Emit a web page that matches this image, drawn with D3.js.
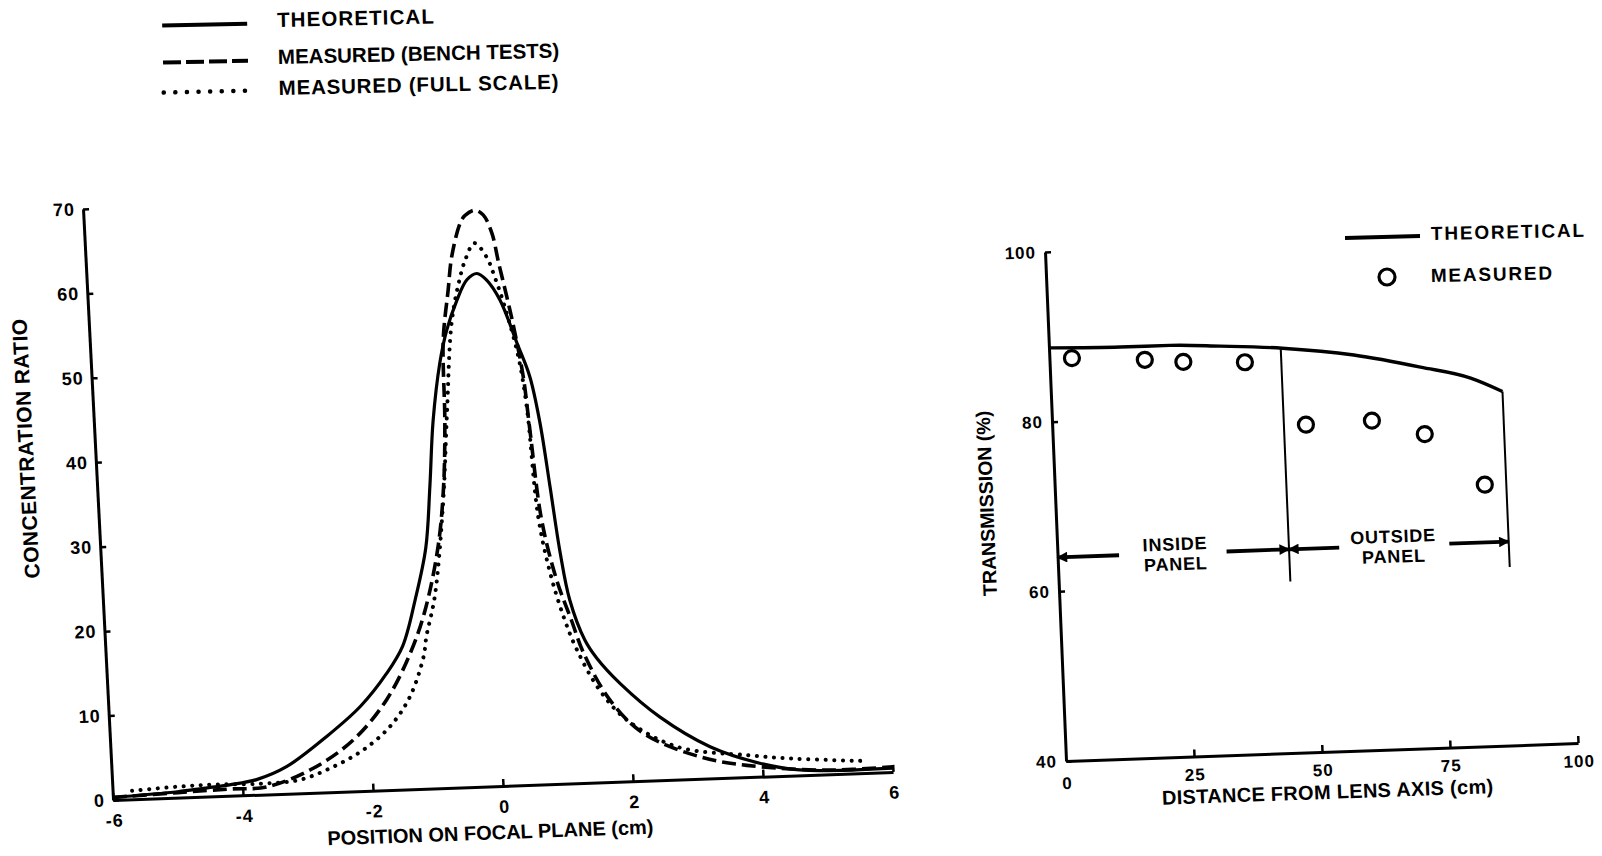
<!DOCTYPE html>
<html>
<head>
<meta charset="utf-8">
<script src="https://cdn.jsdelivr.net/npm/d3@7"></script>
<style>
body { margin: 0; background: #fff; }
text { font-family: "Liberation Sans", Arial, sans-serif; font-weight: bold; fill: #000; }
</style>
</head>
<body>
<svg id="fig" width="1602" height="856"></svg>
<script>
// ---- left panel: concentration ratio vs position (cm) ----
var theoretical = [[-6,0.3],[-5,0.7],[-4.6,1.0],[-4.2,1.3],[-3.78,1.8],[-3.31,3.2],[-2.67,6.6],[-2.13,10.0],
  [-1.70,13.8],[-1.43,17.0],[-1.2,22.5],[-1.0,28.5],[-0.89,35.7],[-0.79,43.4],[-0.64,50.3],
  [-0.51,54.1],[-0.33,57.6],[-0.16,60.0],[0.0,60.7],[0.14,59.9],[0.33,57.5],[0.56,52.3],[0.73,48.3],
  [0.85,42.8],[0.955,35.2],[1.06,27.3],[1.17,21.7],[1.37,16.9],[1.54,14.7],[1.88,11.6],[2.46,7.5],
  [3.21,3.76],[3.96,1.6],[4.57,0.63],[6.0,0.46]];
var benchTests = [[-6,0.3],[-5,0.6],[-4.2,0.8],[-3.63,0.9],[-2.9,2.9],[-2.26,6.1],[-1.72,10.7],
  [-1.32,16.1],[-1.06,21.1],[-0.81,28.6],[-0.68,35.6],[-0.61,43.2],[-0.57,53.0],[-0.455,58.9],
  [-0.375,62.8],[-0.22,66.7],[-0.14,67.6],[0.01,68.2],[0.14,67.6],[0.26,65.4],[0.34,61.9],[0.44,57.8],
  [0.52,54.3],[0.63,48.3],[0.69,42.0],[0.80,31.3],[0.985,24.1],[1.18,19.3],[1.34,15.4],[1.71,9.7],
  [2.2,5.6],[3.05,2.6],[3.76,1.4],[4.98,0.5],[6,0.6]];
var fullScale = [[-5.7,1.0],[-5,1.3],[-4.4,1.4],[-3.73,1.3],[-3.11,1.6],[-2.59,3.0],[-2.12,4.85],
  [-1.69,7.5],[-1.36,10.95],[-1.12,15.6],[-1.06,18.0],[-0.9,22.7],[-0.70,33.7],[-0.57,44.3],
  [-0.43,54.9],[-0.29,59.6],[-0.17,62.35],[-0.017,64.3],[0.16,62.6],[0.27,60.2],[0.40,56.65],
  [0.57,50.7],[0.66,44.7],[0.75,31.7],[0.89,25.0],[1.06,19.8],[1.24,15.8],[1.56,10.9],[1.95,7.3],
  [2.7,3.9],[3.77,2.6],[4.48,2.0],[5.6,1.4]];
var posTicks = [-6,-4,-2,0,2,4,6];
var ratioTicks = [0,10,20,30,40,50,60,70];
var legendLabels = ["THEORETICAL","MEASURED (BENCH TESTS)","MEASURED (FULL SCALE)"];

// ---- right panel: transmission vs distance from lens axis ----
var theoryTrans = [[0,88.7],[13.9,88.5],[23.6,88.5],[33.4,88.2],[45.5,87.7],[59.4,86.6],
  [72.3,84.9],[82,83.4],[88.1,81.7]];
var measuredTrans = [[4.4,87.4],[18.6,86.9],[26.1,86.5],[38.1,86.2],[49.5,78.6],[62.4,78.8],
  [72.6,77.0],[83.9,70.8]];
var panelEdges = [[45.2,60.2],[88.1,61]];   // x, bottom of the divider line
var arrowY = 64;
var arrowPieces = [[12,0],[33,45.2],[55,45.2],[76.5,88.1]];  // from -> to (arrow head at "to")
var panelLabels = [{x:23, lines:["INSIDE","PANEL"]},{x:65.6, lines:["OUTSIDE","PANEL"]}];
var distTicks = [0,25,50,75,100];
var transTicks = [40,60,80,100];

var svg = d3.select('#fig');
var font = '"Liberation Sans", Arial, sans-serif';

function styleAxis(g, fs){
  g.attr('font-family', font);
  g.select('.domain').attr('stroke-width', 3);
  g.selectAll('.tick line').attr('stroke-width', 2.5);
  g.selectAll('.tick text').attr('font-size', fs).attr('font-weight', 'bold').attr('letter-spacing', 1);
}

// ---------- top-left legend ----------
var leg = svg.append('g').attr('transform', 'rotate(-1.3,278,60)');
var legY = [23, 60, 90], legTextY = [27, 64, 95], legSpacing = [1.1, 0, 0.8];
var legDash = [null, '18,5', '0.1,11.5'];
legendLabels.forEach(function(t, i){
  leg.append('line').attr('x1', 163).attr('x2', 248).attr('y1', legY[i]).attr('y2', legY[i])
    .attr('stroke', '#000').attr('stroke-width', i == 2 ? 4.5 : 4)
    .attr('stroke-linecap', i == 2 ? 'round' : 'butt')
    .attr('stroke-dasharray', legDash[i]);
  leg.append('text').attr('x', 278).attr('y', legTextY[i]).attr('font-size', 20.5)
    .attr('letter-spacing', legSpacing[i]).text(t);
});

// ---------- left chart ----------
var W1 = 780, H1 = 591;
var left = svg.append('g').attr('transform', 'matrix(1,-0.036,0.0508,1,83,209)');
var x = d3.scaleLinear().domain([-6, 6]).range([0, W1]);
var y = d3.scaleLinear().domain([0, 70]).range([H1, 0]);

var gx = left.append('g').attr('transform', 'translate(0,' + H1 + ')')
  .call(d3.axisBottom(x).tickValues(posTicks).tickFormat(function(d){ return String(d); })
    .tickSizeInner(-7).tickSizeOuter(0).tickPadding(14));
styleAxis(gx, 18);
var gy = left.append('g')
  .call(d3.axisLeft(y).tickValues(ratioTicks).tickSizeInner(-6).tickSizeOuter(0).tickPadding(8));
styleAxis(gy, 18);

var line = d3.line()
  .x(function(d){ return x(d[0]); })
  .y(function(d){ return y(d[1]); })
  .curve(d3.curveCatmullRom.alpha(0.5));

left.append('path').datum(theoretical).attr('d', line)
  .attr('fill', 'none').attr('stroke', '#000').attr('stroke-width', 3.2);
left.append('path').datum(benchTests).attr('d', line)
  .attr('fill', 'none').attr('stroke', '#000').attr('stroke-width', 3.6)
  .attr('stroke-dasharray', '14,6');
left.append('path').datum(fullScale).attr('d', line)
  .attr('fill', 'none').attr('stroke', '#000').attr('stroke-width', 4)
  .attr('stroke-linecap', 'round').attr('stroke-dasharray', '0.1,8.5');

left.append('text').attr('x', 375).attr('y', 644).attr('text-anchor', 'middle')
  .attr('font-size', 20).text('POSITION ON FOCAL PLANE (cm)');
left.append('text').attr('transform', 'translate(-62,237) rotate(-90)').attr('text-anchor', 'middle')
  .attr('font-size', 21).attr('letter-spacing', 0.4).text('CONCENTRATION RATIO');

// ---------- right chart ----------
var W2 = 512, H2 = 509;
var right = svg.append('g').attr('transform', 'matrix(1,-0.035,0.0413,1,1045,252)');
var x2 = d3.scaleLinear().domain([0, 100]).range([0, W2]);
var y2 = d3.scaleLinear().domain([40, 100]).range([H2, 0]);

var gx2 = right.append('g').attr('transform', 'translate(0,' + H2 + ')')
  .call(d3.axisBottom(x2).tickValues(distTicks).tickSizeInner(-7).tickSizeOuter(0).tickPadding(12));
styleAxis(gx2, 17);
gx2.selectAll('.tick').filter(function(d){ return d === 0; }).select('line').remove();
gx2.selectAll('.tick').filter(function(d){ return d === 0; }).select('text').attr('y', 16);
var gy2 = right.append('g')
  .call(d3.axisLeft(y2).tickValues(transTicks).tickSizeInner(-6).tickSizeOuter(0).tickPadding(9));
styleAxis(gy2, 17);

var line2 = d3.line()
  .x(function(d){ return x2(d[0]); })
  .y(function(d){ return y2(d[1]); })
  .curve(d3.curveMonotoneX);
right.append('path').datum(theoryTrans).attr('d', line2)
  .attr('fill', 'none').attr('stroke', '#000').attr('stroke-width', 3.4);

// panel divider lines hang from the theoretical curve
var theoryAt = d3.scaleLinear().domain(theoryTrans.map(function(d){ return d[0]; }))
  .range(theoryTrans.map(function(d){ return d[1]; }));
right.selectAll('.edge').data(panelEdges).enter().append('line')
  .attr('x1', function(d){ return x2(d[0]); }).attr('x2', function(d){ return x2(d[0]); })
  .attr('y1', function(d){ return y2(theoryAt(d[0])); }).attr('y2', function(d){ return y2(d[1]); })
  .attr('stroke', '#000').attr('stroke-width', 2);

svg.append('defs').append('marker').attr('id', 'head')
  .attr('viewBox', '0 0 10 10').attr('refX', 9).attr('refY', 5)
  .attr('markerWidth', 3.4).attr('markerHeight', 2.8).attr('orient', 'auto')
  .append('path').attr('d', 'M0,0L10,5L0,10z').attr('fill', '#000');

right.selectAll('.arrow').data(arrowPieces).enter().append('line')
  .attr('x1', function(d){ return x2(d[0]); }).attr('x2', function(d){ return x2(d[1]); })
  .attr('y1', y2(arrowY)).attr('y2', y2(arrowY))
  .attr('stroke', '#000').attr('stroke-width', 3.8).attr('marker-end', 'url(#head)');

panelLabels.forEach(function(p){
  p.lines.forEach(function(t, i){
    right.append('text').attr('x', x2(p.x)).attr('y', y2(arrowY) - 3 + i * 20)
      .attr('text-anchor', 'middle').attr('font-size', 18).attr('letter-spacing', 0.8).text(t);
  });
});

right.selectAll('.meas').data(measuredTrans).enter().append('circle')
  .attr('cx', function(d){ return x2(d[0]); }).attr('cy', function(d){ return y2(d[1]); })
  .attr('r', 7.5).attr('fill', 'none').attr('stroke', '#000').attr('stroke-width', 3.2);

right.append('text').attr('x', 260).attr('y', 556).attr('text-anchor', 'middle')
  .attr('font-size', 20).attr('letter-spacing', 0.3).text('DISTANCE FROM LENS AXIS (cm)');
right.append('text').attr('transform', 'translate(-62,249) rotate(-90)').attr('text-anchor', 'middle')
  .attr('font-size', 19.5).text('TRANSMISSION (%)');

// right legend
svg.append('line').attr('x1', 1345).attr('x2', 1420).attr('y1', 238).attr('y2', 236)
  .attr('stroke', '#000').attr('stroke-width', 4);
svg.append('text').attr('x', 1431).attr('y', 240).attr('font-size', 19).attr('letter-spacing', 1.8)
  .attr('transform', 'rotate(-1.2,1431,240)').text('THEORETICAL');
svg.append('circle').attr('cx', 1387).attr('cy', 277).attr('r', 8)
  .attr('fill', 'none').attr('stroke', '#000').attr('stroke-width', 3.2);
svg.append('text').attr('x', 1431).attr('y', 282).attr('font-size', 19).attr('letter-spacing', 1.8)
  .attr('transform', 'rotate(-1.2,1431,282)').text('MEASURED');
</script>
</body>
</html>
